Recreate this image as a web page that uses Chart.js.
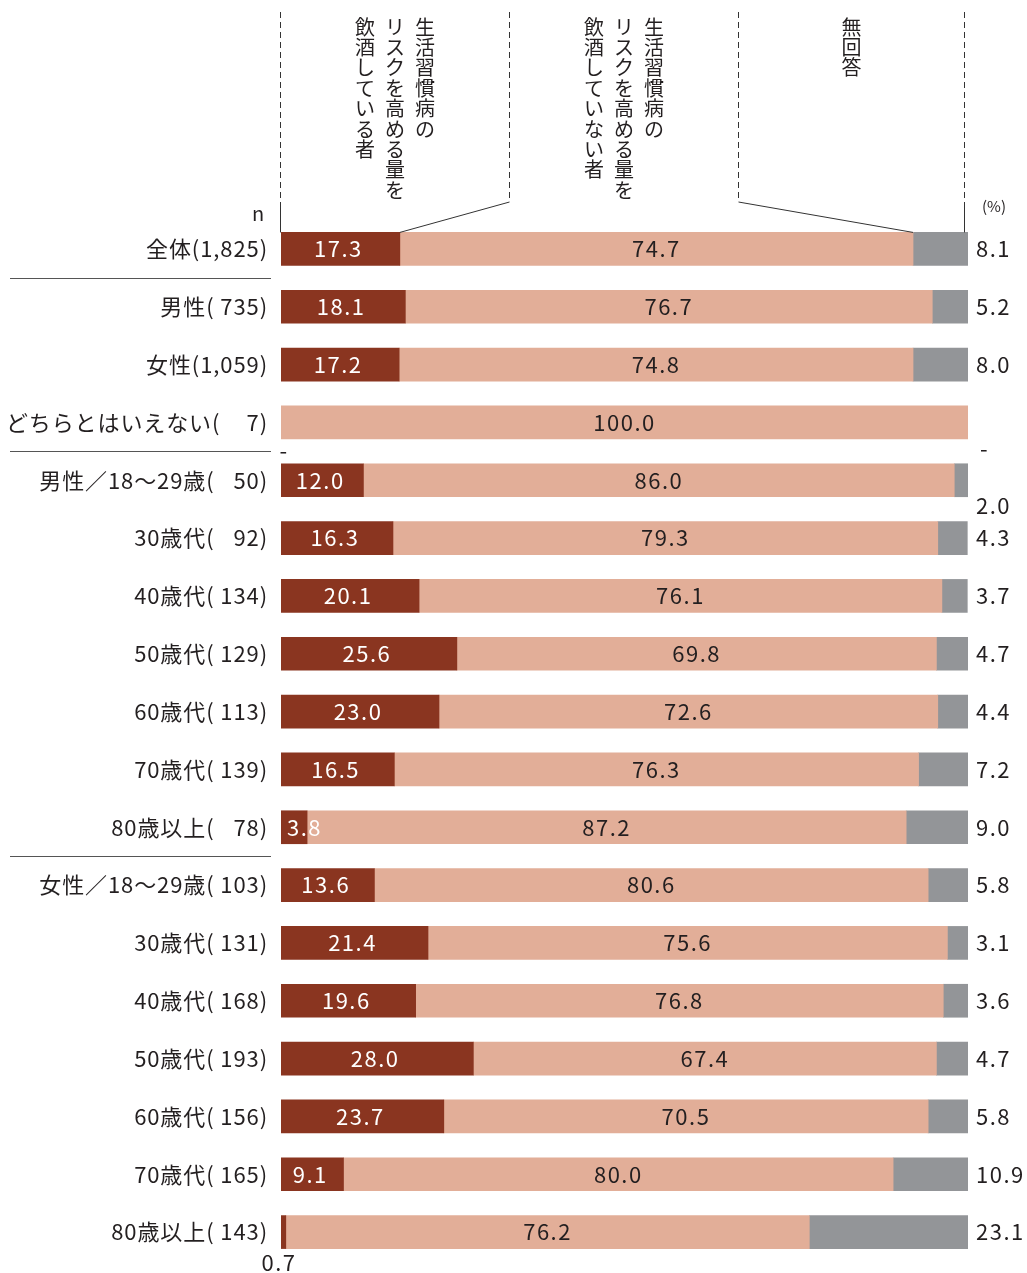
<!DOCTYPE html>
<html lang="ja">
<head>
<meta charset="utf-8">
<title>生活習慣病のリスクを高める量の飲酒</title>
<script src="https://cdn.jsdelivr.net/npm/chart.js@4.4.1/dist/chart.umd.min.js"></script>
<style>
  html, body { margin: 0; padding: 0; background: #fff; }
  #wrap { width: 1027px; height: 1273px; }
</style>
</head>
<body>
<div id="wrap"><canvas id="drinkChart" width="1027" height="1273"></canvas></div>
<script>
// === Data ===
const categories = [
  "全体(1,825)",
  "男性( 735)",
  "女性(1,059)",
  "どちらとはいえない(\u2007\u20077)",
  "男性／18～29歳(\u2007 50)",
  "30歳代(\u2007 92)",
  "40歳代( 134)",
  "50歳代( 129)",
  "60歳代( 113)",
  "70歳代( 139)",
  "80歳以上(\u2007 78)",
  "女性／18～29歳( 103)",
  "30歳代( 131)",
  "40歳代( 168)",
  "50歳代( 193)",
  "60歳代( 156)",
  "70歳代( 165)",
  "80歳以上( 143)"
];
const riskDrinkers    = [17.3, 18.1, 17.2, null, 12.0, 16.3, 20.1, 25.6, 23.0, 16.5, 3.8, 13.6, 21.4, 19.6, 28.0, 23.7, 9.1, 0.7];
const nonRiskDrinkers = [74.7, 76.7, 74.8, 100.0, 86.0, 79.3, 76.1, 69.8, 72.6, 76.3, 87.2, 80.6, 75.6, 76.8, 67.4, 70.5, 80.0, 76.2];
const noAnswer        = [8.1, 5.2, 8.0, null, 2.0, 4.3, 3.7, 4.7, 4.4, 7.2, 9.0, 5.8, 3.1, 3.6, 4.7, 5.8, 10.9, 23.1];
const seriesHeaders = [
  ["生活習慣病の", "リスクを高める量を", "飲酒している者"],
  ["生活習慣病の", "リスクを高める量を", "飲酒していない者"],
  ["無回答"]
];
const separatorAfter = [0, 3, 10];

const COLORS = ["#8a3520", "#e2ae98", "#939598"];
const INK = "#231f20";
const FONT = "'Noto Sans CJK JP', 'Noto Sans', sans-serif";

// === Labels, separators and header ===
const decorPlugin = {
  id: "decor",
  beforeDraw(chart) {
    // wider glyph spacing for the axis labels too
    chart.ctx.letterSpacing = "0.9px";
  },
  afterDatasetsDraw(chart) {
    const { ctx, chartArea, scales } = chart;
    const m0 = chart.getDatasetMeta(0).data;
    const m1 = chart.getDatasetMeta(1).data;
    ctx.save();
    ctx.font = "22px " + FONT;
    ctx.letterSpacing = "1.5px";
    ctx.textBaseline = "middle";

    categories.forEach((_, i) => {
      const b0 = m0[i], b1 = m1[i];
      const y = b1.y;
      const half = b1.height / 2;

      // drinkers
      const v0 = riskDrinkers[i];
      if (v0 == null) {
        ctx.fillStyle = INK; ctx.textAlign = "center";
        ctx.fillText("-", chartArea.left + 3, y + half + 12);
      } else if (v0 < 2) {
        ctx.fillStyle = INK; ctx.textAlign = "center";
        ctx.fillText(v0.toFixed(1), chartArea.left - 2, y + half + 14);
      } else {
        ctx.fillStyle = "#fff";
        const txt = v0.toFixed(1);
        const w = ctx.measureText(txt).width;
        if (w + 6 > b0.x - b0.base) {
          ctx.textAlign = "left";
          ctx.fillText(txt, b0.base + 6, y);
        } else {
          ctx.textAlign = "center";
          ctx.fillText(txt, (b0.x + b0.base) / 2 - 2, y);
        }
      }

      // not drinking at risk level
      ctx.fillStyle = INK; ctx.textAlign = "center";
      ctx.fillText(nonRiskDrinkers[i].toFixed(1), (b1.x + b1.base) / 2, y);

      // no answer
      const v2 = noAnswer[i];
      ctx.textAlign = "left";
      if (v2 == null) {
        ctx.fillText("-", chartArea.right + 12, y + half + 10);
      } else if (v2 <= 2) {
        ctx.fillText(v2.toFixed(1), chartArea.right + 8, y + half + 9);
      } else {
        ctx.fillText(v2.toFixed(1), chartArea.right + 8, y);
      }
    });

    // separators
    ctx.strokeStyle = "#555";
    ctx.lineWidth = 1;
    separatorAfter.forEach(i => {
      const yy = Math.round((scales.y.getPixelForValue(i) + scales.y.getPixelForValue(i + 1)) / 2) + 0.5;
      ctx.beginPath();
      ctx.moveTo(10, yy);
      ctx.lineTo(271, yy);
      ctx.stroke();
    });

    // header brackets
    const x = scales.x;
    const topBar = m0[0].y - m0[0].height / 2;
    const dashTop = 12, dashBottom = 202;
    const cols = [0, 100 / 3, 200 / 3, 99.6].map(v => Math.round(x.getPixelForValue(v)) - 0.5);
    const targets = [
      x.getPixelForValue(0),
      x.getPixelForValue(riskDrinkers[0]),
      x.getPixelForValue(riskDrinkers[0] + nonRiskDrinkers[0]),
      x.getPixelForValue(100)
    ];
    ctx.strokeStyle = "#333";
    cols.forEach((cx, k) => {
      ctx.setLineDash([6, 4]);
      ctx.beginPath();
      ctx.moveTo(cx, dashTop);
      ctx.lineTo(cx, dashBottom);
      ctx.stroke();
      ctx.setLineDash([]);
      ctx.beginPath();
      ctx.moveTo(cx, dashBottom);
      ctx.lineTo(k === 0 || k === 3 ? cx : targets[k], topBar);
      ctx.stroke();
    });

    // vertical header text
    ctx.letterSpacing = "0px";
    ctx.fillStyle = INK;
    ctx.font = "20px " + FONT;
    ctx.textAlign = "center";
    ctx.textBaseline = "top";
    seriesHeaders.forEach((lines, s) => {
      const center = (cols[s] + cols[s + 1]) / 2;
      const n = lines.length;
      lines.forEach((line, j) => {
        const lx = center + ((n - 1) / 2 - j) * 30;
        Array.from(line).forEach((ch, c) => {
          ctx.fillText(ch, lx, 17 + c * 20.4);
        });
      });
    });

    // n and (%)
    ctx.textBaseline = "middle";
    ctx.font = "20px " + FONT;
    ctx.fillText("n", 258, 213);
    ctx.font = "15px " + FONT;
    ctx.fillText("(%)", 994, 206);
    ctx.restore();
  }
};

// === Chart ===
const ctx = document.getElementById("drinkChart").getContext("2d");
new Chart(ctx, {
  type: "bar",
  data: {
    labels: categories,
    datasets: [
      { label: "飲酒している者", data: riskDrinkers, backgroundColor: COLORS[0] },
      { label: "飲酒していない者", data: nonRiskDrinkers, backgroundColor: COLORS[1] },
      { label: "無回答", data: noAnswer, backgroundColor: COLORS[2] }
    ].map(d => Object.assign(d, { barThickness: 33, borderWidth: 0 }))
  },
  options: {
    indexAxis: "y",
    responsive: false,
    animation: false,
    layout: { padding: { top: 220, bottom: 12, left: 0, right: 59 } },
    plugins: { legend: { display: false }, tooltip: { enabled: false } },
    scales: {
      x: { stacked: true, min: 0, max: 100, display: false },
      y: {
        stacked: true,
        grid: { display: false, drawTicks: false },
        border: { display: false },
        ticks: { autoSkip: false, padding: 13, color: INK, font: { family: FONT, size: 22 } },
        afterFit(scale) {
          scale.width = 281;
          scale.paddingTop = 0;
          scale.paddingBottom = 0;
        }
      }
    }
  },
  plugins: [decorPlugin]
});
</script>
</body>
</html>
